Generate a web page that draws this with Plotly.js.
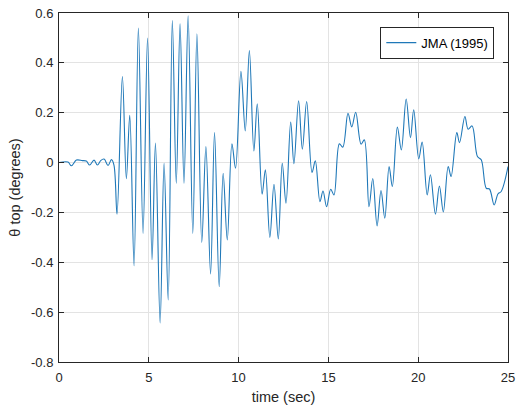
<!DOCTYPE html>
<html>
<head>
<meta charset="utf-8">
<script src="https://cdn.plot.ly/plotly-3.0.1.min.js"></script>
<style>html,body{margin:0;padding:0;background:#fff;}#chart{width:516px;height:412px;}</style>
</head>
<body>
<div id="chart"></div>
<script>
var seriesName = "JMA (1995)";
var timeSec = [0, 0.5, 0.69, 0.97, 1.3, 1.52, 1.71, 1.95, 2.14, 2.32, 2.51, 2.73, 2.92, 3.06,
  3.23, 3.53, 3.75, 3.94, 4.18, 4.42, 4.68, 4.93, 5.18, 5.37, 5.63, 5.85, 6.08, 6.31, 6.53, 6.74, 6.96,
  7.19, 7.45, 7.68, 7.95, 8.18, 8.44, 8.66, 8.92, 9.14, 9.37, 9.63, 9.83, 10.13, 10.37, 10.6, 10.85,
  11.04, 11.31, 11.49, 11.74, 11.97, 12.21, 12.43, 12.64, 12.9, 13.08, 13.34, 13.55, 13.79, 14.09,
  14.27, 14.53, 14.7, 14.9, 15.13, 15.31, 15.61, 15.8, 16.09, 16.3, 16.52, 16.82, 17.0, 17.26, 17.47,
  17.71, 17.93, 18.14, 18.38, 18.56, 18.84, 19.06, 19.33, 19.57, 19.75, 20.03, 20.22, 20.5, 20.68,
  20.96, 21.18, 21.4, 21.67, 21.83, 22.15, 22.3, 22.6, 22.78, 23.0, 23.3, 23.51, 23.79, 23.97, 24.23,
  24.44, 24.62, 25.0];
var thetaTop = [0, 0.002, -0.013, 0.01, 0.008, 0.006, -0.01, 0.01, -0.01, 0.008, 0.014, -0.012, 0.012, -0.01,
  -0.207, 0.345, -0.065, 0.19, -0.414, 0.54, -0.284, 0.50, -0.39, 0.078, -0.643, -0.003, -0.551, 0.57, -0.083, 0.557, -0.083,
  0.589, -0.284, 0.517, -0.32, 0.064, -0.447, 0.12, -0.498, -0.043, -0.31, 0.075, -0.023, 0.366, 0.127, 0.449, 0.047,
  0.236, -0.127, -0.029, -0.30, -0.087, -0.306, -0.003, -0.163, 0.163, -0.005, 0.248, 0.054, 0.245, -0.04,
  0.007, -0.157, -0.114, -0.177, -0.107, -0.13, 0.075, 0.062, 0.198, 0.143, 0.202, 0.074, 0.091, -0.177, -0.064,
  -0.254, -0.112, -0.223, -0.016, -0.096, 0.142, 0.051, 0.255, 0.10, 0.212, 0.015, 0.082, -0.13, -0.049,
  -0.207, -0.094, -0.198, -0.016, -0.056, 0.12, 0.08, 0.185, 0.134, 0.147, 0.024, 0.011, -0.103, -0.106, -0.17,
  -0.126, -0.116, -0.016];
var xTickVals = [0, 5, 10, 15, 20, 25];
var xTickText = ["0", "5", "10", "15", "20", "25"];
var yTickVals = [-0.8, -0.6, -0.4, -0.2, 0, 0.2, 0.4, 0.6];
var yTickText = ["-0.8", "-0.6", "-0.4", "-0.2", "0", "0.2", "0.4", "0.6"];

var fontFam = 'Arial, "Liberation Sans", sans-serif';
var axisCommon = {
  showline: true, mirror: 'ticks', linecolor: '#262626', linewidth: 1,
  ticks: 'inside', ticklen: 5, tickwidth: 1, tickcolor: '#262626',
  showgrid: true, gridcolor: '#e3e3e3', gridwidth: 1, zeroline: false,
  tickfont: {family: fontFam, size: 13, color: '#262626'}
};

var trace = {
  x: timeSec, y: thetaTop, type: 'scatter', mode: 'lines', name: seriesName,
  line: {color: '#1f78b8', width: 1.1, shape: 'spline', smoothing: 1}
};

var layout = {
  width: 516, height: 412,
  margin: {l: 59, r: 8, t: 13, b: 50, pad: 0},
  paper_bgcolor: '#ffffff', plot_bgcolor: '#ffffff',
  showlegend: true,
  legend: {
    x: 0.9695, y: 0.9607, xanchor: 'right', yanchor: 'top',
    bgcolor: '#ffffff', bordercolor: '#262626', borderwidth: 1,
    font: {family: fontFam, size: 13, color: '#000000'},
    tracegroupgap: 0
  },
  xaxis: Object.assign({}, axisCommon, {
    range: [0, 25], tickmode: 'array', tickvals: xTickVals, ticktext: xTickText,
    ticklabelstandoff: 3,
    title: {text: 'time (sec)', font: {family: fontFam, size: 14.5, color: '#262626'}, standoff: 8}
  }),
  yaxis: Object.assign({}, axisCommon, {
    range: [-0.8, 0.6], tickmode: 'array', tickvals: yTickVals, ticktext: yTickText,
    ticklabelstandoff: 2,
    title: {text: 'θ top (degrees)', font: {family: fontFam, size: 14.5, color: '#262626'}, standoff: 6}
  })
};

Plotly.newPlot('chart', [trace], layout, {displayModeBar: false, staticPlot: true});
</script>
</body>
</html>
